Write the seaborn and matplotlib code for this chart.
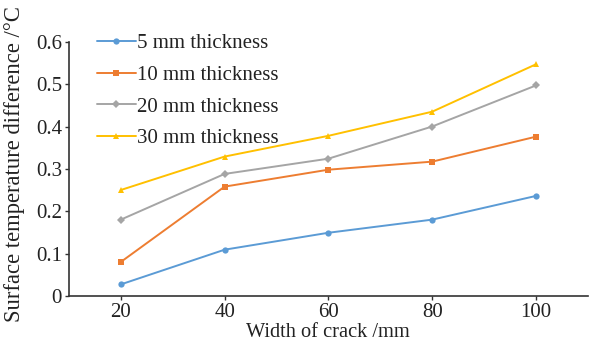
import matplotlib
matplotlib.use("Agg")
import matplotlib.pyplot as plt
import seaborn as sns
import pandas as pd

widths = [20, 40, 60, 80, 100]
t5 = [0.027, 0.109, 0.149, 0.180, 0.236]
t10 = [0.080, 0.258, 0.298, 0.317, 0.376]
t20 = [0.180, 0.288, 0.324, 0.400, 0.497]
t30 = [0.250, 0.329, 0.378, 0.435, 0.547]
series_names = ["5 mm thickness", "10 mm thickness", "20 mm thickness", "30 mm thickness"]
colors = ["#5B9BD5", "#ED7D31", "#A5A5A5", "#FFC000"]
markers = ["o", "s", "D", "^"]

rows = []
for name, vals in zip(series_names, [t5, t10, t20, t30]):
    for w, v in zip(widths, vals):
        rows.append({"width": w, "value": v, "series": name})
df = pd.DataFrame(rows)

sns.set_style("ticks")
plt.rcParams["font.family"] = ["Liberation Serif", "DejaVu Serif"]

fig = plt.figure(figsize=(5.89, 3.46), dpi=100)
ax = fig.add_axes([0.117, 0.145, 0.881, 0.734])

sns.lineplot(data=df, x="width", y="value", hue="series", style="series",
             palette=dict(zip(series_names, colors)),
             markers=dict(zip(series_names, markers)),
             dashes=False, linewidth=1.4, markersize=4.5, markeredgewidth=0,
             ax=ax)

ax.set_xlim(10, 110)
ax.set_ylim(0, 0.6)
ax.set_xticks(widths)
ax.set_yticks([0, 0.1, 0.2, 0.3, 0.4, 0.5, 0.6])
ax.set_yticklabels(["0", "0.1", "0.2", "0.3", "0.4", "0.5", "0.6"])
for s in ["top", "right"]:
    ax.spines[s].set_visible(False)
for s in ["left", "bottom"]:
    ax.spines[s].set_color("#333333")
    ax.spines[s].set_linewidth(1.2)
ax.tick_params(axis="both", labelsize=15, length=3, width=1, color="#333333", pad=2, labelcolor="#222222")
ax.set_xlabel("Width of crack /mm", fontsize=14.7, color="#222222", labelpad=1)
ax.set_ylabel("Surface temperature difference /°C", fontsize=16.3, color="#222222", labelpad=3)
ax.yaxis.set_label_coords(-0.085, 0.52)

leg = ax.legend(loc="upper left", bbox_to_anchor=(0.038, 1.065), frameon=False, fontsize=15,
                handlelength=1.85, handletextpad=0.05, labelspacing=0.58, borderaxespad=0)
for t in leg.get_texts():
    t.set_color("#222222")

fig.savefig("out.png", dpi=100)
